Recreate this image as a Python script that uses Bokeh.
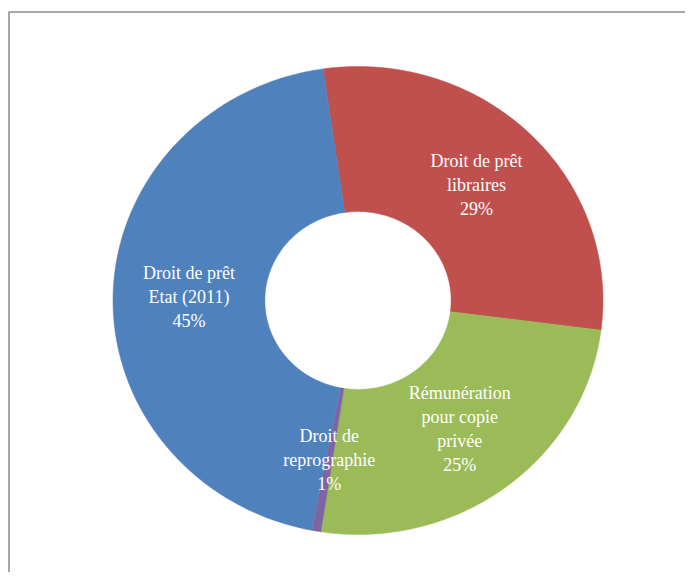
import numpy as np
from bokeh.plotting import figure
from bokeh.models import Range1d, ColumnDataSource
from bokeh.core.properties import value
from bokeh.embed import file_html
from bokeh.resources import INLINE

# Data (clockwise from the top)
categories = ["Droit de prêt\nlibraires", "Rémunération\npour copie\nprivée",
              "Droit de\nreprographie", "Droit de prêt\nEtat (2011)"]
shares = [29.3, 25.4, 0.6, 44.7]
pct_labels = ["29%", "25%", "1%", "45%"]
colors = ["#C0504D", "#9BBB59", "#8064A2", "#4F81BD"]

W, H = 685, 572
p = figure(width=W, height=H, output_backend="svg", toolbar_location=None,
           x_range=Range1d(0, W), y_range=Range1d(H, 0),
           min_border=0, outline_line_color=None)
p.axis.visible = False
p.grid.visible = False
p.background_fill_color = "white"
p.border_fill_color = "white"

# chart frame (left and top edges visible)
p.quad(left=[8.5], right=[900], top=[11.5], bottom=[900],
       fill_color=None, line_color="#8a8a8a", line_width=1.5)

cx, cy = 357.5, 300.0
rx, ry = 245.0, 234.0
hole = 0.38
start_deg = -8.2  # clockwise from 12 o'clock

vals = np.array(shares, dtype=float)
fr = vals / vals.sum()
ends = start_deg + np.cumsum(fr) * 360.0
starts = ends - fr * 360.0

xs, ys, lx, ly, texts = [], [], [], [], []
for s, e, cat, pl in zip(starts, ends, categories, pct_labels):
    t = np.radians(np.linspace(s, e, 200))
    ox = cx + rx * np.sin(t)
    oy = cy - ry * np.cos(t)
    ix = cx + hole * rx * np.sin(t[::-1])
    iy = cy - hole * ry * np.cos(t[::-1])
    xs.append(np.concatenate([ox, ix]).tolist())
    ys.append(np.concatenate([oy, iy]).tolist())
    m = np.radians((s + e) / 2)
    rm = (1 + hole) / 2
    lx.append(cx + rm * rx * np.sin(m))
    ly.append(cy - rm * ry * np.cos(m))
    texts.append(cat + "\n" + pl)

src = ColumnDataSource(dict(xs=xs, ys=ys, color=colors))
p.patches("xs", "ys", source=src, fill_color="color", line_color="color",
          line_width=0.5)

lsrc = ColumnDataSource(dict(x=lx, y=ly, text=texts))
p.text("x", "y", text="text", source=lsrc, text_align="center",
       text_baseline="middle", text_color="white",
       text_font=value("Liberation Serif"), text_font_size="18px",
       text_line_height=1.2)

open("out.html", "w").write(file_html(p, INLINE))
